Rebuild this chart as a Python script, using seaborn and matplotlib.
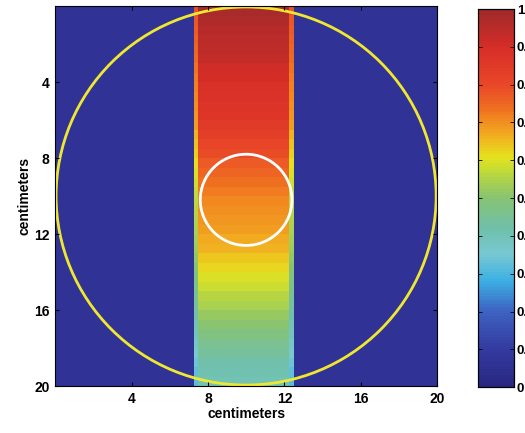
import numpy as np
import matplotlib
matplotlib.use("Agg")
import matplotlib.pyplot as plt
import seaborn as sns
from matplotlib.colors import LinearSegmentedColormap
from matplotlib.patches import Circle

# band value along depth, one value every 0.5 cm (0 -> 20 cm)
band_profile = [0.98, 0.97, 0.96, 0.95, 0.94, 0.93, 0.91, 0.90, 0.89, 0.88,
                0.87, 0.86, 0.85, 0.83, 0.81, 0.79, 0.77, 0.75, 0.74, 0.72,
                0.71, 0.70, 0.69, 0.68, 0.67, 0.66, 0.64, 0.62, 0.60, 0.58,
                0.56, 0.54, 0.52, 0.50, 0.48, 0.46, 0.44, 0.42, 0.41, 0.40]
background = 0.07
band_left_cm = 7.25
band_right_cm = 12.5
edge_factor = 0.8

outer_circle = (10.0, 10.0, 9.95)   # x, y, radius in cm
inner_circle = (10.0, 10.2, 2.4)

tick_cm = [4, 8, 12, 16, 20]
cbar_ticks = [0, 0.1, 0.2, 0.3, 0.4, 0.5, 0.6, 0.7, 0.8, 0.9, 1.0]
cbar_labels = ["0", "0.1", "0.2", "0.3", "0.4", "0.5", "0.6", "0.7", "0.8", "0.9", "1"]

# colormap
cmap_colors = [
    (0.00, (40, 40, 130)), (0.10, (52, 58, 160)), (0.20, (62, 100, 195)),
    (0.28, (60, 175, 228)), (0.35, (120, 200, 210)), (0.42, (112, 192, 170)),
    (0.50, (135, 195, 115)), (0.58, (200, 220, 50)), (0.61, (230, 226, 30)),
    (0.67, (242, 170, 32)), (0.73, (240, 118, 32)), (0.80, (234, 72, 40)),
    (0.90, (215, 45, 40)), (1.00, (160, 42, 42)),
]
cmap = LinearSegmentedColormap.from_list(
    "mjet", [(p, tuple(c / 255 for c in rgb)) for p, rgb in cmap_colors], N=128)

res = 4  # cells per cm
n = 20 * res
grid = np.full((n, n), background)
rows = np.repeat(band_profile, res // 2)
c0 = int(band_left_cm * res)
c1 = int(band_right_cm * res)
grid[:, c0:c1] = rows[:, None]
grid[:, c0] = rows * edge_factor
grid[:, c1 - 1] = rows * edge_factor

plt.rcParams['font.family'] = ['Liberation Sans', 'DejaVu Sans']
plt.rcParams['font.weight'] = 'bold'

fig = plt.figure(figsize=(5.25, 4.33), dpi=100)
ax = fig.add_axes([0.105, 0.1085, 0.7276, 0.8776])
cax = fig.add_axes([0.910, 0.106, 0.069, 0.873])

sns.heatmap(grid, ax=ax, cbar_ax=cax, cmap=cmap, vmin=0, vmax=1,
            xticklabels=False, yticklabels=False,
            cbar_kws={"ticks": cbar_ticks})

for (cx, cy, r), col in [(outer_circle, "#f0e830"), (inner_circle, "white")]:
    ax.add_patch(Circle((cx * res, cy * res), r * res, fill=False,
                        edgecolor=col, linewidth=2.0))

ax.set_xticks([t * res for t in tick_cm])
ax.set_xticklabels([str(t) for t in tick_cm], fontsize=10, fontweight='bold')
ax.set_yticks([t * res for t in tick_cm])
ax.set_yticklabels([str(t) for t in tick_cm], fontsize=10, fontweight='bold', rotation=0)
ax.set_xlim(0, n)
ax.set_ylim(n, 0)
ax.tick_params(direction='in', length=3, width=0.8, top=True, right=True, pad=4)
ax.set_xlabel("centimeters", fontsize=10, fontweight='bold', labelpad=1)
ax.set_ylabel("centimeters", fontsize=10, fontweight='bold', labelpad=2)
for s in ax.spines.values():
    s.set_visible(True)
    s.set_linewidth(0.8)
    s.set_color("black")

cax.set_yticklabels(cbar_labels, fontsize=9.5, fontweight='bold')
cax.tick_params(direction='in', length=3, width=0.6, left=True, right=True, pad=2)
for s in cax.spines.values():
    s.set_visible(True)
    s.set_linewidth(0.8)

fig.savefig("out.png", dpi=100)
